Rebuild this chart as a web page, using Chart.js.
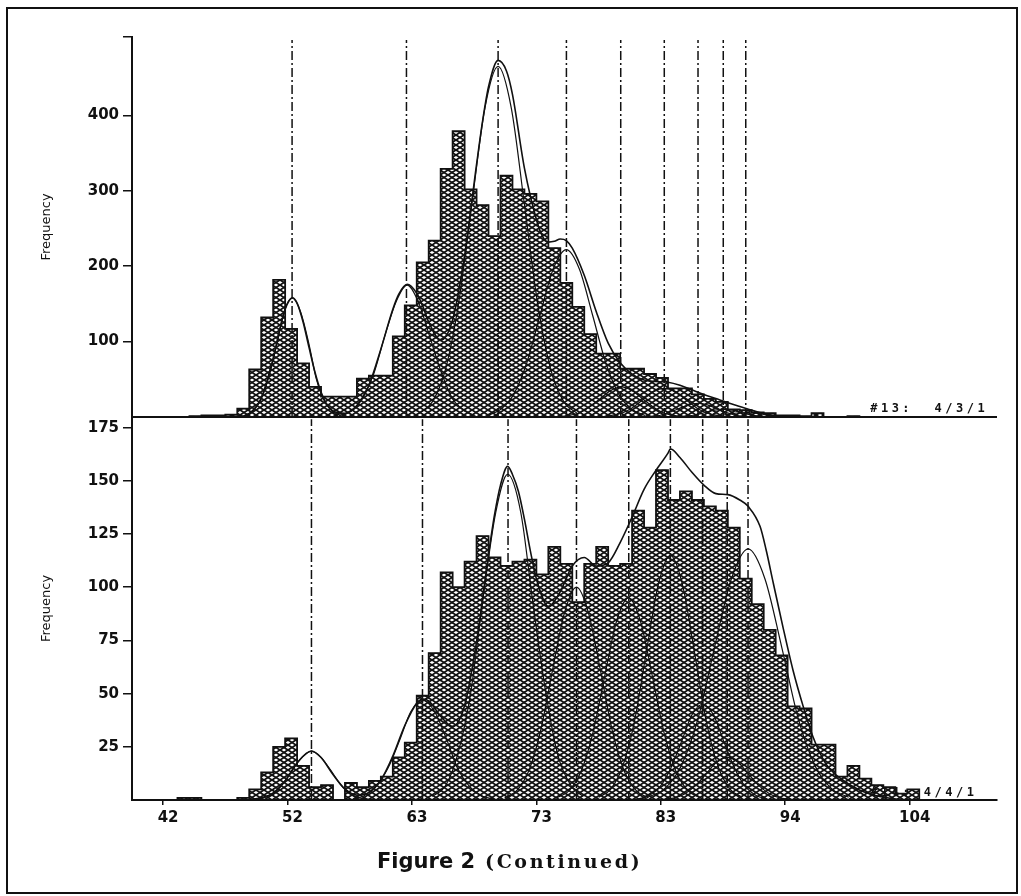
<!DOCTYPE html>
<html lang="en">
<head>
<meta charset="UTF-8">
<title>Figure 2 (Continued)</title>
<script src="https://cdn.jsdelivr.net/npm/chart.js@4.4.0/dist/chart.umd.min.js"></script>
<style>
  html, body { margin: 0; padding: 0; background: #fff; }
  #wrap { position: relative; width: 1021px; height: 896px; overflow: hidden; }
  #frame { position: absolute; left: 6px; top: 7px; width: 1008px; height: 883px; border: 2px solid #111; }
  #chart { position: absolute; left: 0; top: 0; }
  #caption { position: absolute; left: 377px; top: 849px; white-space: nowrap; color: #111; line-height: 21px; }
  #caption .fig { font: bold 21px "DejaVu Sans"; }
  #caption .cont { font: bold 19px "DejaVu Serif"; letter-spacing: 2.6px; margin-left: 6px; }
</style>
</head>
<body>
<div id="wrap">
  <div id="frame"></div>
  <canvas id="chart" width="1021" height="896"></canvas>
  <div id="caption"><span class="fig">Figure 2</span> <span class="cont">(Continued)</span></div>
</div>

<script>
// histogram bins (left edge of each 1-unit bin)
var bins = [42,43,44,45,46,47,48,49,50,51,52,53,54,55,56,57,58,59,60,61,
            62,63,64,65,66,67,68,69,70,71,72,73,74,75,76,77,78,79,80,81,
            82,83,84,85,86,87,88,89,90,91,92,93,94,95,96,97,98,99,100,101,
            102,103,104,105];

// #13: 4/3/1  (upper panel)
var topCounts = [0,0,1,2,2,3,11,63,132,182,117,71,40,27,27,27,51,55,55,107,
                 148,205,234,329,379,302,281,240,320,302,296,286,224,178,146,110,84,84,64,64,
                 57,52,38,38,30,24,20,10,9,6,5,2,2,1,5,0,0,1,0,0,
                 0,0,0,0];

// #14: 4/4/1  (lower panel)
var bottomCounts = [0,1,1,0,0,0,1,5,13,25,29,16,6,7,0,8,6,9,11,20,
                    27,49,69,107,100,112,124,114,110,112,113,106,119,111,93,111,119,110,111,136,
                    128,155,141,145,141,138,136,128,104,92,80,68,44,43,26,26,11,16,10,7,
                    6,3,5,0];

// component peak positions (dash-dot lines)
var topPeaks = [52.58, 62.14, 69.8, 75.51, 80.05, 83.69, 86.51, 88.62, 90.5];
var bottomPeaks = [54.2, 63.48, 70.63, 76.35, 80.72, 84.2, 86.9, 88.95, 90.69];
var topLineTop = 500;
var bottomLineTop = 179;

// fitted component curves as [x, frequency]
var topComponents = [
  [[48.6,2],[49.2,7],[49.9,21],[50.6,51],[51.3,96],[51.9,139],[52.6,158],[53.3,139],[54.0,96],[54.6,51],[55.3,21],[56.0,7],[56.7,2]],
  [[56.5,2],[57.5,8],[58.4,24],[59.4,57],[60.3,106],[61.3,154],[62.2,175],[63.1,154],[64.1,106],[65.1,57],[66.0,24],[67.0,8],[67.9,2]],
  [[63.2,5],[64.3,20],[65.4,63],[66.5,151],[67.6,282],[68.7,410],[69.8,465],[70.9,410],[72.0,282],[73.1,151],[74.2,63],[75.3,20],[76.4,5]],
  [[68.9,2],[70.0,10],[71.1,30],[72.2,72],[73.3,135],[74.4,196],[75.5,222],[76.6,196],[77.7,135],[78.8,72],[79.9,30],[81.0,10],[82.1,2]],
  [[74.7,0],[75.6,2],[76.5,5],[77.4,13],[78.3,24],[79.2,35],[80.1,40],[81.0,35],[81.9,24],[82.8,13],[83.7,5],[84.6,2],[85.5,0]],
  [[78.3,0],[79.2,2],[80.1,5],[81.0,12],[81.9,23],[82.8,34],[83.7,38],[84.6,34],[85.5,23],[86.4,12],[87.3,5],[88.2,2],[89.1,0]],
  [[81.7,0],[82.5,1],[83.3,2],[84.1,6],[84.9,11],[85.7,16],[86.5,18],[87.3,16],[88.1,11],[88.9,6],[89.7,2],[90.5,1],[91.3,0]],
  [[84.1,0],[84.9,0.4],[85.6,1.4],[86.4,3],[87.1,6],[87.9,9],[88.6,10],[89.4,9],[90.1,6],[90.9,3],[91.6,1.4],[92.4,0.4],[93.1,0]],
  [[86.0,0],[86.8,0.3],[87.5,0.8],[88.3,2],[89.0,3.6],[89.8,5.3],[90.5,6],[91.3,5.3],[92.0,3.6],[92.8,2],[93.5,0.8],[94.3,0.3],[95.0,0]]
];
var topSum = [[47.5,0],[48,0.5],[49,4.5],[50,25],[51,78],[51.5,113],[52,143],[52.6,158],[53,151],[53.5,126],[54,92],[54.5,59],
  [55,33],[55.5,16],[56,8],[57,5],[58,15],[59,42],[60,90],[61,143],[61.5,163],[62.2,176],[63,164],[63.5,147],[64,126],
  [65,102],[66,129],[67,214],[68,335],[68.5,392],[69,438],[69.8,473],[70.5,459],[71,428],[72,330],[73,262],[73.5,240],
  [74,232],[74.5,233],[75,236],[75.5,234],[76,224],[77,188],[78,140],[79,98],[80,72],[81,57],[82,49],[83,47],[84,46],
  [85,42],[86,36],[87,30],[88,24.5],[89,19],[90,14],[91,9],[92,4.5],[93,1.6],[94,0.4],[95,0]];

var bottomComponents = [
  [[49.4,0.3],[50.2,1],[51.0,3],[51.8,7.5],[52.6,14],[53.4,20],[54.2,23],[55.0,20],[55.8,14],[56.6,7.5],[57.4,3],[58.2,1],[59.0,0.3]],
  [[57.7,0.5],[58.6,2],[59.6,6.4],[60.6,15],[61.6,28.5],[62.5,41.5],[63.5,47],[64.5,41.5],[65.5,28.5],[66.4,15],[67.4,6.4],[68.4,2],[69.4,0.5]],
  [[64.3,1.7],[65.4,6.7],[66.4,21],[67.5,50],[68.5,93],[69.6,135],[70.6,153],[71.7,135],[72.7,93],[73.8,50],[74.8,21],[75.9,6.7],[76.9,1.7]],
  [[70.35,1],[71.35,4.4],[72.35,13.5],[73.35,32.5],[74.35,61],[75.35,88],[76.35,100],[77.35,88],[78.35,61],[79.35,32.5],[80.35,13.5],[81.35,4.4],[82.35,1]],
  [[74.7,1],[75.7,4.2],[76.7,13],[77.7,31],[78.7,58],[79.7,84],[80.7,95],[81.7,84],[82.7,58],[83.7,31],[84.7,13],[85.7,4.2],[86.7,1]],
  [[78.2,1.3],[79.2,5],[80.2,15.6],[81.2,37],[82.2,70],[83.2,101.5],[84.2,115],[85.2,101.5],[86.2,70],[87.2,37],[88.2,15.6],[89.2,5],[90.2,1.3]],
  [[81.5,0.5],[82.4,2],[83.3,6],[84.2,14.6],[85.1,27],[86.0,40],[86.9,45],[87.8,40],[88.7,27],[89.6,14.6],[90.5,6],[91.4,2],[92.3,0.5]],
  [[83.55,0.2],[84.45,0.9],[85.35,2.7],[86.25,6.5],[87.15,12],[88.05,17.7],[88.95,20],[89.85,17.7],[90.75,12],[91.65,6.5],[92.55,2.7],[93.45,0.9],[94.35,0.2]],
  [[82.3,1.3],[83.7,5.2],[85.1,16],[86.5,38],[87.9,72],[89.3,104],[90.7,118],[92.1,104],[93.5,72],[94.9,38],[96.3,16],[97.7,5.2],[99.1,1.3]]
];
var bottomSum = [[48.5,0],[49,0.2],[50,1],[51,3.3],[52,9],[53,17.4],[54.2,23],[55,20],[56,12],[57,5.2],[58,2.3],[59,3.6],
  [60,9.4],[61,20.7],[62,35],[63,45.5],[63.5,47.5],[64,46.6],[65,39.4],[66,34.6],[67,44.4],[68,74.4],[69,115.5],[69.5,134],
  [70,148],[70.6,156.8],[71,153],[71.5,145],[72,132],[72.5,117],[73,104],[74,91],[75,98],[76,110],[77,114],[78,110],
  [79,111.5],[80,121],[81,133],[82,146],[83,155],[84,163],[84.2,165],[85,161],[86,154],[87,148],[88,144],[89,143.5],
  [90,141],[90.7,138],[91.7,128.5],[92.2,117.6],[92.8,102],[93.6,81.5],[94.45,61],[95.3,44],[96.1,30],[97.2,17],
  [98.6,9.4],[100,4.7],[101.7,1.6],[103,0.5],[104,0]];

// axes
var xTickValues = [41.8, 52.2, 62.6, 73.0, 83.4, 93.8, 104.2];
var xTickLabels = ['42', '52', '63', '73', '83', '94', '104'];
var topTickValues = [100, 200, 300, 400];
var bottomTickValues = [25, 50, 75, 100, 125, 150, 175];
var panelLabels = ['#13:  4/3/1', '#14: 4/4/1'];
var panelLabelAt = 100.9;

var ink = '#111';

// cross-hatch fill like the printed histogram
function makeHatch() {
  var c = document.createElement('canvas');
  c.width = 8; c.height = 5;
  var g = c.getContext('2d');
  g.strokeStyle = ink;
  g.lineWidth = 1.7;
  for (var j = -1; j <= 2; j++) {
    g.beginPath(); g.moveTo(-1, 5 * j - 0.625); g.lineTo(9, 5 * j + 5.625); g.stroke();
    g.beginPath(); g.moveTo(-1, 5 * j + 0.625); g.lineTo(9, 5 * j - 5.625); g.stroke();
  }
  return g.createPattern(c, 'repeat');
}
var hatch = makeHatch();

function toPoints(pairs) {
  return pairs.map(function (p) { return {x: p[0], y: p[1]}; });
}
function binPoints(counts) {
  return bins.map(function (b, i) { return {x: b + 0.5, y: counts[i]}; });
}

var datasets = [];

function addPanel(axis, counts, comps, sum, peaks, lineTop) {
  datasets.push({
    type: 'bar', yAxisID: axis, data: binPoints(counts),
    backgroundColor: hatch, borderWidth: 0,
    barPercentage: 1, categoryPercentage: 1, grouped: false, order: 10
  });
  datasets.push({
    type: 'line', yAxisID: axis, data: binPoints(counts), stepped: 'middle',
    borderColor: ink, borderWidth: 1.8, pointRadius: 0, fill: false, order: 5
  });
  comps.forEach(function (c) {
    datasets.push({
      type: 'line', yAxisID: axis, data: toPoints(c), cubicInterpolationMode: 'monotone',
      borderColor: ink, borderWidth: 1.2, pointRadius: 0, fill: false, order: 2
    });
  });
  datasets.push({
    type: 'line', yAxisID: axis, data: toPoints(sum), cubicInterpolationMode: 'monotone',
    borderColor: ink, borderWidth: 1.6, pointRadius: 0, fill: false, order: 1
  });
  peaks.forEach(function (p) {
    datasets.push({
      type: 'line', yAxisID: axis, data: [{x: p, y: 0}, {x: p, y: lineTop}],
      borderColor: ink, borderWidth: 1.5, borderDash: [9, 3, 2, 3],
      pointRadius: 0, fill: false, order: 0
    });
  });
}
addPanel('yTop', topCounts, topComponents, topSum, topPeaks, topLineTop);
addPanel('yBot', bottomCounts, bottomComponents, bottomSum, bottomPeaks, bottomLineTop);

var tickFont = {family: 'DejaVu Sans', size: 15, weight: 'bold'};
var titleFont = {family: 'DejaVu Sans', size: 13};

// panel ids, the baseline between the panels
var panelText = {
  id: 'panelText',
  beforeDatasetsDraw: function (chart) {
    var ctx = chart.ctx, s = chart.scales;
    ctx.save();
    ctx.font = 'bold 12px "DejaVu Sans Mono"';
    ctx.letterSpacing = '3.5px';
    ctx.fillStyle = ink;
    ctx.textBaseline = 'bottom';
    ctx.fillText(panelLabels[0], s.x.getPixelForValue(panelLabelAt), s.yTop.getPixelForValue(0) - 2);
    ctx.fillText(panelLabels[1], s.x.getPixelForValue(panelLabelAt), s.yBot.getPixelForValue(0) - 1);
    ctx.restore();
  },
  afterDatasetsDraw: function (chart) {
    var ctx = chart.ctx, a = chart.chartArea;
    var y = chart.scales.yTop.getPixelForValue(0);
    ctx.save();
    ctx.strokeStyle = ink;
    ctx.lineWidth = 2;
    ctx.beginPath();
    ctx.moveTo(a.left, y);
    ctx.lineTo(a.right, y);
    ctx.stroke();
    ctx.restore();
  }
};

function yAxis(ticks, max, weight, stackWeight) {
  return {
    type: 'linear', position: 'left', stack: 'panels', stackWeight: stackWeight, weight: weight,
    min: 0, max: max,
    afterBuildTicks: function (s) {
      var v = ticks.slice();
      if (weight === 1) v.push(max);
      s.ticks = v.map(function (t) { return {value: t}; });
    },
    afterFit: function (s) { s.width = 102; },
    ticks: {
      font: tickFont, color: ink, padding: 4,
      callback: function (v) { return ticks.indexOf(v) >= 0 ? String(v) : ''; }
    },
    grid: {drawOnChartArea: false, tickLength: 9, color: ink, lineWidth: 1.5},
    border: {color: ink, width: 2},
    title: {display: true, text: 'Frequency', font: titleFont, color: ink, padding: {top: 9, bottom: 0}}
  };
}

new Chart(document.getElementById('chart'), {
  type: 'bar',
  data: {datasets: datasets},
  options: {
    responsive: false,
    animation: false,
    events: [],
    layout: {padding: {left: 30, right: 24, top: 37, bottom: 66}},
    plugins: {legend: {display: false}, tooltip: {enabled: false}},
    scales: {
      x: {
        type: 'linear', min: 39.2, max: 111.5, offset: false,
        afterBuildTicks: function (s) {
          s.ticks = xTickValues.map(function (t) { return {value: t}; });
        },
        afterFit: function (s) { s.height = 30; },
        ticks: {
          font: tickFont, color: ink, padding: 4, labelOffset: 5, maxRotation: 0, autoSkip: false,
          callback: function (v, i) { return xTickLabels[i]; }
        },
        grid: {drawOnChartArea: false, offset: false, tickLength: 5, color: ink, lineWidth: 1.5},
        border: {color: ink, width: 2}
      },
      yBot: yAxis(bottomTickValues, 180, 0, 383),
      yTop: yAxis(topTickValues, 504, 1, 380)
    }
  },
  plugins: [panelText]
});
</script>
</body>
</html>
